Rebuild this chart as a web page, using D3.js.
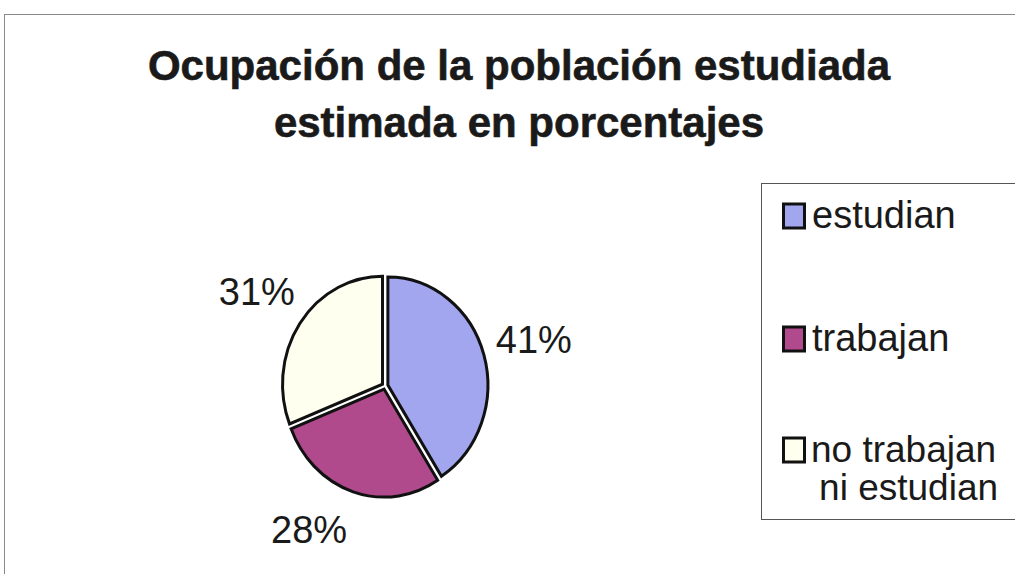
<!DOCTYPE html>
<html>
<head>
<meta charset="utf-8">
<script src="https://cdn.jsdelivr.net/npm/d3@7"></script>
<style>
  html, body { margin: 0; padding: 0; background: #fff; }
  svg { display: block; }
  text { font-family: "Liberation Sans", Arial, sans-serif; fill: #1a1a1a; }
</style>
</head>
<body>
<svg id="chart" width="1015" height="574"></svg>
<script>
// ---- data ----
const categories = ["estudian", "trabajan", "no trabajan ni estudian"];
const legendLines = [["estudian"], ["trabajan"], ["no trabajan", "ni estudian"]];
const values = [41, 28, 31];
const valueLabels = ["41%", "28%", "31%"];
const titleLines = ["Ocupación de la población estudiada", "estimada en porcentajes"];

// ---- layout / style ----
const colors = ["#a2a6ef", "#b04a8d", "#fffff0"];
const W = 1015, H = 574;
const cx = 385, cy = 386, r = 100, yStretch = 1.08, explode = 3;
const labelR = 155;
const labelNudge = [[0, 0], [-28, -16], [0, 0]];

const svg = d3.select("#chart");

// outer chart border
svg.append("rect")
  .attr("x", 4.5).attr("y", 14.5).attr("width", W + 50).attr("height", H + 50)
  .attr("fill", "none").attr("stroke", "#8a8a8a").attr("stroke-width", 1);

// title
const title = svg.append("text")
  .attr("text-anchor", "middle")
  .style("font-size", "42px").style("font-weight", "bold")
  .style("stroke", "#1a1a1a").style("stroke-width", "0.6px");
titleLines.forEach((t, i) => {
  title.append("tspan").attr("x", 519).attr("y", 80 + i * 57).text(t);
});

// pie
const pie = d3.pie().sort(null).value(d => d)(values);
const arc = d3.arc().innerRadius(0).outerRadius(r);

const g = svg.append("g")
  .attr("transform", `translate(${cx},${cy}) scale(1,${yStretch})`);

g.selectAll("path")
  .data(pie)
  .join("path")
  .attr("d", arc)
  .attr("transform", d => {
    const a = (d.startAngle + d.endAngle) / 2;
    return `translate(${Math.sin(a) * explode},${-Math.cos(a) * explode})`;
  })
  .attr("fill", (d, i) => colors[i])
  .attr("stroke", "#111")
  .attr("stroke-width", 3)
  .attr("stroke-linejoin", "miter")
  .attr("vector-effect", "non-scaling-stroke");

// value labels
svg.selectAll("text.val")
  .data(pie)
  .join("text")
  .attr("class", "val")
  .attr("text-anchor", "middle")
  .style("font-size", "38px")
  .attr("x", (d, i) => cx + Math.sin((d.startAngle + d.endAngle) / 2) * labelR + labelNudge[i][0])
  .attr("y", (d, i) => cy - Math.cos((d.startAngle + d.endAngle) / 2) * labelR * yStretch + labelNudge[i][1])
  .attr("dy", "0.35em")
  .text((d, i) => valueLabels[i]);

// legend
svg.append("rect")
  .attr("x", 761.5).attr("y", 183.5).attr("width", 300).attr("height", 336)
  .attr("fill", "#fff").attr("stroke", "#555").attr("stroke-width", 1);

const legendY = [228, 351, 462];
categories.forEach((c, i) => {
  const base = legendY[i];
  svg.append("rect")
    .attr("x", 783.5).attr("y", base - 24).attr("width", 21).attr("height", 24)
    .attr("fill", colors[i]).attr("stroke", "#111").attr("stroke-width", 3);
  const lines = legendLines[i];
  if (lines.length === 1) {
    svg.append("text").style("font-size", "38px")
      .attr("x", 812).attr("y", base).text(lines[0]);
  } else {
    const tmp = svg.append("text").style("font-size", "37px").text(lines[0]);
    const w = tmp.node().getComputedTextLength();
    tmp.remove();
    const mid = 811 + w / 2;
    lines.forEach((l, j) => {
      svg.append("text").style("font-size", "37px")
        .attr("text-anchor", "middle")
        .attr("x", mid + (j ? 5 : 0)).attr("y", base + j * 38).text(l);
    });
  }
});
</script>
</body>
</html>
